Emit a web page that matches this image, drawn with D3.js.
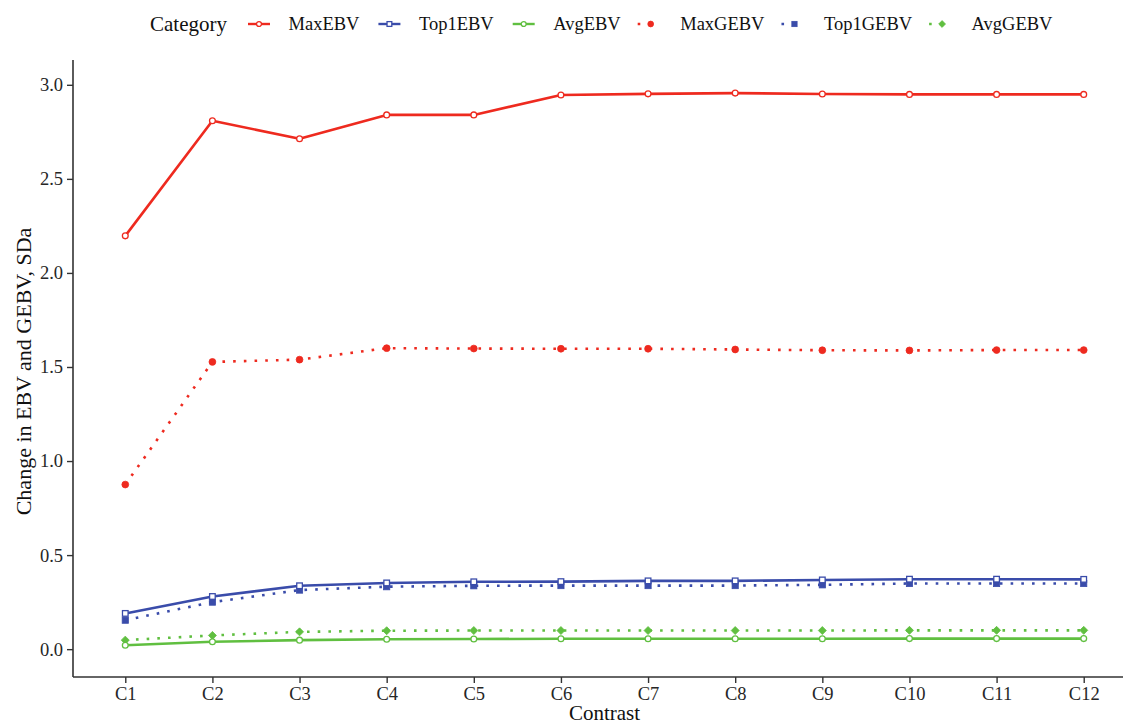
<!DOCTYPE html>
<html>
<head>
<meta charset="utf-8">
<script src="https://cdn.jsdelivr.net/npm/d3@7"></script>
<style>
  html, body { margin: 0; padding: 0; background: #fff; }
  svg { display: block; font-family: "Liberation Serif", "Times New Roman", serif; }
</style>
</head>
<body>
<svg id="chart" width="1123" height="725"></svg>
<script>
// Contrasts along the x axis
const contrasts = ["C1","C2","C3","C4","C5","C6","C7","C8","C9","C10","C11","C12"];

// Change in EBV / GEBV (SDa) per contrast
const maxEBV   = [2.197, 2.809, 2.713, 2.840, 2.840, 2.946, 2.952, 2.956, 2.951, 2.949, 2.949, 2.949];
const top1EBV  = [0.190, 0.280, 0.337, 0.352, 0.358, 0.359, 0.363, 0.363, 0.368, 0.372, 0.372, 0.371];
const avgEBV   = [0.021, 0.039, 0.048, 0.053, 0.054, 0.055, 0.055, 0.055, 0.055, 0.056, 0.056, 0.056];
const maxGEBV  = [0.875, 1.527, 1.539, 1.600, 1.598, 1.597, 1.597, 1.593, 1.589, 1.588, 1.590, 1.590];
const top1GEBV = [0.154, 0.250, 0.314, 0.332, 0.337, 0.338, 0.338, 0.338, 0.342, 0.349, 0.349, 0.349];
const avgGEBV  = [0.048, 0.073, 0.092, 0.098, 0.099, 0.099, 0.099, 0.099, 0.099, 0.100, 0.100, 0.100];

const yTicks = [0, 0.5, 1.0, 1.5, 2.0, 2.5, 3.0];

const RED = "#ee2a1f", BLUE = "#3a4caa", GREEN = "#60bf40";

const series = [
  { name: "MaxEBV",   values: maxEBV,   color: RED,   dotted: false, shape: "circle" },
  { name: "Top1EBV",  values: top1EBV,  color: BLUE,  dotted: false, shape: "square" },
  { name: "AvgEBV",   values: avgEBV,   color: GREEN, dotted: false, shape: "circle" },
  { name: "MaxGEBV",  values: maxGEBV,  color: RED,   dotted: true,  shape: "circle" },
  { name: "Top1GEBV", values: top1GEBV, color: BLUE,  dotted: true,  shape: "square" },
  { name: "AvgGEBV",  values: avgGEBV,  color: GREEN, dotted: true,  shape: "diamond" }
];

const svg = d3.select("#chart");
const panel = { left: 73, right: 1136, top: 66, bottom: 677 };

const x = d3.scalePoint().domain(contrasts).range([panel.left, panel.right]).padding(0.6);
const y = d3.scaleLinear().domain([-0.148, 3.1]).range([panel.bottom, panel.top]);

const AXIS = "#333333", TEXT = "#262626";

// Axes
const gx = svg.append("g").attr("transform", `translate(0,${panel.bottom})`)
  .call(d3.axisBottom(x).tickSize(6).tickPadding(4));
const gy = svg.append("g").attr("transform", `translate(${panel.left},0)`)
  .call(d3.axisLeft(y).tickValues(yTicks).tickFormat(d3.format(".1f")).tickSize(6).tickPadding(4));

[gx, gy].forEach(g => {
  g.select(".domain").attr("stroke", AXIS).attr("stroke-width", 1.6);
  g.selectAll(".tick line").attr("stroke", AXIS).attr("stroke-width", 1.4);
  g.selectAll(".tick text").attr("fill", TEXT).style("font-size", "18.5px")
    .style("font-family", "'Liberation Serif', 'Times New Roman', serif");
});
gx.select(".domain").attr("d", `M${panel.left},0H${panel.right}`);
gy.select(".domain").attr("d", `M0,${panel.bottom}V${panel.top - 6}`);

// Axis titles
svg.append("text")
  .attr("x", (panel.left + panel.right) / 2).attr("y", 720)
  .attr("text-anchor", "middle").attr("fill", "#111")
  .style("font-size", "21px").text("Contrast");
svg.append("text")
  .attr("transform", `translate(31,${(panel.top + panel.bottom) / 2}) rotate(-90)`)
  .attr("text-anchor", "middle").attr("fill", "#111")
  .style("font-size", "22px").text("Change in EBV and GEBV, SDa");

// Marker drawing helper
function marker(sel, s, cx, cy, scale) {
  const k = scale || 1;
  const fill = s.dotted ? s.color : "#ffffff";
  const sw = s.dotted ? 0.8 : 1.3;
  if (s.shape === "circle") {
    sel.append("circle").attr("cx", cx).attr("cy", cy)
      .attr("r", (s.dotted ? 3.4 : 2.9) * k)
      .attr("fill", fill).attr("stroke", s.color).attr("stroke-width", sw);
  } else if (s.shape === "square") {
    const h = (s.dotted ? 3.1 : 2.8) * k;
    sel.append("rect").attr("x", cx - h).attr("y", cy - h)
      .attr("width", 2 * h).attr("height", 2 * h)
      .attr("fill", fill).attr("stroke", s.color).attr("stroke-width", sw);
  } else {
    const h = 4.0 * k;
    sel.append("path")
      .attr("d", `M${cx},${cy - h}L${cx + h},${cy}L${cx},${cy + h}L${cx - h},${cy}Z`)
      .attr("fill", fill).attr("stroke", s.color).attr("stroke-width", sw);
  }
}

const line = d3.line().x((d, i) => x(contrasts[i])).y(d => y(d));

// Lines (dotted first so solid lines sit on top)
const ordered = series.filter(s => s.dotted).concat(series.filter(s => !s.dotted));
ordered.forEach(s => {
  const g = svg.append("g");
  g.append("path").datum(s.values)
    .attr("d", line).attr("fill", "none")
    .attr("stroke", s.color)
    .attr("stroke-width", 2.6)
    .attr("stroke-linecap", "butt")
    .attr("stroke-linejoin", "round")
    .attr("stroke-dasharray", s.dotted ? "2.6 8.1" : null);
  s.values.forEach((v, i) => marker(g, s, x(contrasts[i]), y(v)));
});

// Legend
const lg = svg.append("g").attr("transform", "translate(0,24)");
lg.append("text").attr("x", 150).attr("y", 0).attr("dy", "0.35em")
  .attr("fill", "#111").style("font-size", "21px").text("Category");
let cx = 259;
series.forEach(s => {
  const g = lg.append("g");
  g.append("line").attr("x1", s.dotted ? cx - 13 : cx - 11).attr("x2", s.dotted ? cx + 2 : cx + 11)
    .attr("y1", 0).attr("y2", 0)
    .attr("stroke", s.color).attr("stroke-width", 2.4)
    .attr("stroke-dasharray", s.dotted ? "2.6 8.1" : null);
  marker(g, s, cx, 0, 0.85);
  const t = g.append("text").attr("x", cx + 29.5).attr("y", 0).attr("dy", "0.35em")
    .attr("fill", "#111").style("font-size", "18.5px").text(s.name);
  cx = cx + 29.5 + t.node().getComputedTextLength() + 30;
});
</script>
</body>
</html>
